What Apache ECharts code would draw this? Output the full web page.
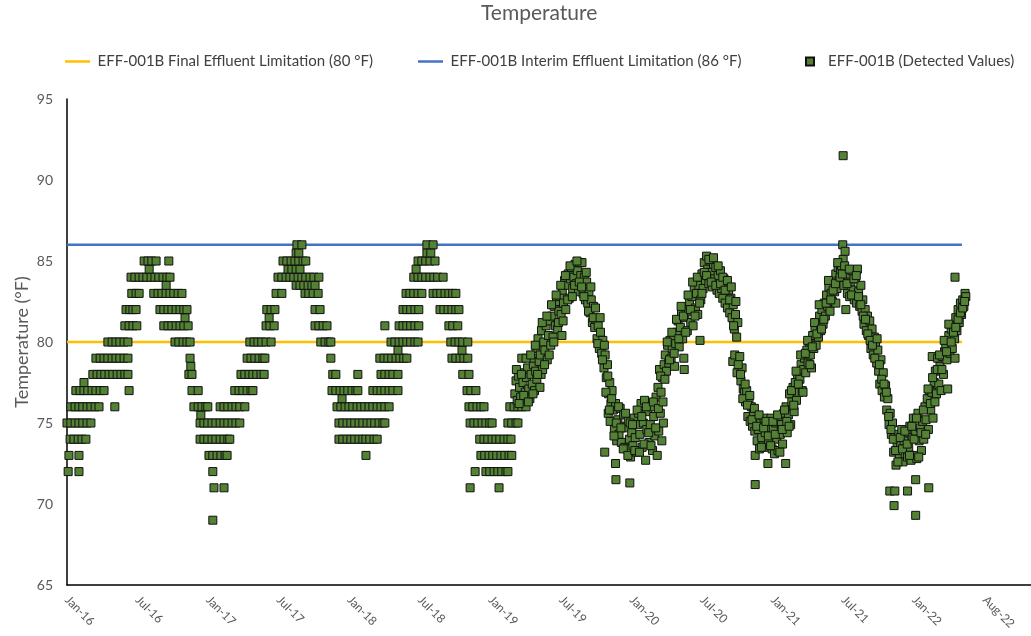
<!DOCTYPE html>
<html>
<head>
<meta charset="utf-8">
<script src="https://cdn.jsdelivr.net/npm/echarts@6/dist/echarts.min.js"></script>
<style>
html,body{margin:0;padding:0;background:#fff;}
#chart{width:1031px;height:636px;}
</style>
</head>
<body>
<div id="chart"></div>
<script>
// x values are days since 2016-01-26 (axis start); ticks every 183 days
const tickDays = 183;
const tickLabels = ['Jan-16','Jul-16','Jan-17','Jul-17','Jan-18','Jul-18','Jan-19','Jul-19','Jan-20','Jul-20','Jan-21','Jul-21','Jan-22','Aug-22'];
const axisEndDay = 2499;

const seriesNames = [
  'EFF-001B Final Effluent Limitation (80 °F)',
  'EFF-001B Interim Effluent Limitation (86 °F)',
  'EFF-001B (Detected Values)'
];
const finalLimit = 80;
const interimLimit = 86;
const limitSpanDays = [0, 2320];

// 2016 - early 2019 readings (whole / half degrees): [temp, [days...]]
const stepReadings = [
  [69, [378]],
  [71, [381, 407, 1045, 1120]],
  [72, [3, 31, 378, 1058, 1086, 1096, 1107, 1117, 1127, 1138, 1143]],
  [73, [5, 31, 368, 378, 389, 399, 410, 415, 775, 1073, 1083, 1094, 1104, 1114, 1125, 1135, 1146, 1153]],
  [74, [8, 18, 29, 39, 49, 345, 355, 365, 376, 386, 397, 407, 417, 422, 705, 715, 726, 736, 746, 757, 767, 775, 785, 796, 804, 1070, 1081, 1091, 1102, 1112, 1122, 1133, 1143, 1151]],
  [75, [0, 10, 21, 31, 41, 52, 62, 345, 355, 365, 376, 386, 397, 407, 417, 428, 438, 448, 705, 715, 726, 736, 746, 757, 767, 778, 788, 798, 809, 819, 824, 1045, 1055, 1065, 1076, 1086, 1096, 1102, 1143, 1153, 1164, 1169]],
  [75.5, [347]],
  [76, [10, 21, 31, 41, 52, 62, 73, 83, 124, 329, 340, 350, 360, 365, 397, 407, 417, 428, 438, 448, 461, 700, 710, 721, 731, 741, 752, 762, 772, 783, 793, 804, 814, 824, 835, 1042, 1052, 1063, 1073, 1081, 1148, 1159, 1169, 1179, 1190]],
  [76.5, [713]],
  [77, [23, 34, 44, 54, 65, 75, 86, 96, 161, 324, 340, 435, 446, 456, 467, 477, 482, 687, 697, 708, 718, 728, 739, 749, 754, 793, 804, 814, 824, 835, 845, 858, 1037, 1047, 1060]],
  [77.5, [44]],
  [78, [67, 78, 88, 98, 109, 119, 130, 140, 150, 158, 316, 324, 451, 461, 472, 482, 492, 503, 511, 689, 697, 754, 814, 824, 835, 845, 858, 1026, 1042]],
  [78.5, [321]],
  [79, [75, 86, 96, 106, 117, 127, 137, 148, 158, 319, 467, 477, 487, 498, 508, 513, 684, 811, 822, 832, 842, 853, 863, 873, 881, 998, 1008, 1019, 1029, 1039]],
  [79.5, [858, 1024]],
  [80, [106, 117, 127, 137, 148, 158, 280, 290, 301, 311, 319, 474, 485, 495, 505, 516, 529, 658, 669, 679, 684, 840, 850, 861, 871, 881, 891, 902, 910, 995, 1006, 1016, 1026, 1039]],
  [81, [150, 161, 171, 181, 251, 262, 272, 283, 293, 303, 314, 516, 526, 537, 643, 653, 664, 674, 824, 861, 871, 881, 891, 902, 912, 990, 1000, 1013]],
  [81.5, [306, 524]],
  [82, [153, 163, 171, 179, 241, 251, 262, 272, 283, 293, 303, 311, 518, 529, 539, 643, 656, 871, 881, 891, 902, 912, 967, 977, 988, 998, 1008, 1016]],
  [83, [168, 179, 187, 225, 236, 246, 257, 267, 277, 288, 298, 542, 557, 617, 627, 638, 651, 879, 889, 899, 910, 920, 949, 959, 969, 980, 990, 1000, 1008]],
  [83.5, [257, 594, 604, 614, 625, 635, 643]],
  [84, [166, 176, 187, 197, 207, 218, 228, 238, 249, 259, 267, 547, 557, 568, 578, 588, 599, 609, 619, 630, 640, 653, 899, 910, 920, 930, 941, 951, 961, 975]],
  [84.5, [213, 573, 583, 594, 604, 905]],
  [85, [200, 210, 220, 231, 264, 560, 570, 581, 591, 601, 612, 619, 910, 920, 930, 941, 954]],
  [85.5, [594, 601, 933, 943]],
  [86, [596, 609, 933, 949]]
];

// mid 2019 - 2022 readings (tenths of a degree): [day, temp]
const dailyReadings = [
[1161,76.8],[1164,77.6],[1167,76.4],[1170,77.9],[1173,77.2],[1176,76.6],[1179,79.0],[1182,77.5],[1185,78.1],[1188,76.9],
[1191,77.8],[1194,78.4],[1197,77.1],[1200,76.5],[1203,78.0],[1206,77.4],[1209,78.6],[1210,79.0],[1212,77.0],[1215,78.2],[1216,79.6],[1218,77.7],[1221,80.2],[1224,78.8],
[1226,77.2],[1227,79.2],[1229,78.0],[1230,80.7],[1233,78.3],[1236,80.0],[1239,79.5],[1242,81.0],[1245,78.9],[1248,80.4],[1251,81.3],[1254,79.8],
[1257,81.6],[1260,80.3],[1263,82.2],[1266,81.0],[1269,82.5],[1272,80.8],[1275,81.9],[1278,82.8],
[1281,81.7],[1283,80.4],[1284,83.2],[1287,82.4],[1290,83.8],[1293,82.0],[1296,83.5],[1299,84.2],[1302,82.7],[1305,83.9],
[1308,84.6],[1311,83.3],[1314,84.0],[1317,84.8],[1320,83.6],[1323,84.4],[1326,83.1],[1329,84.9],[1332,84.1],[1335,84.9],
[1338,83.0],[1341,84.0],[1344,82.6],[1347,83.7],[1350,82.4],
[1353,83.1],[1356,81.8],[1359,82.6],[1362,81.2],[1365,82.2],[1368,80.9],
[1371,81.4],[1374,80.2],[1377,81.0],[1380,79.6],[1383,80.6],[1386,79.3],[1389,80.1],
[1392,78.4],[1394,73.2],[1395,79.2],[1398,77.8],
[1401,78.6],[1403,75.6],[1404,76.8],[1407,77.5],[1408,75.1],[1410,76.2],[1413,77.0],
[1416,75.8],[1419,74.6],[1422,76.2],[1422,72.5],[1423,71.5],[1425,73.9],[1428,75.2],[1431,74.3],[1434,75.9],[1437,73.8],[1440,74.8],[1443,75.5],[1446,73.5],
[1449,74.7],[1452,73.4],[1455,75.1],[1458,74.0],[1459,71.3],[1461,72.9],[1464,74.4],[1467,73.6],[1470,75.3],[1473,74.1],[1476,73.2],[1479,74.9],[1482,75.6],
[1485,74.3],[1488,76.2],[1491,73.5],[1494,75.0],[1497,76.4],[1500,72.7],[1503,74.6],[1506,75.7],[1509,73.8],[1512,74.9],[1515,76.0],[1518,73.3],[1521,75.4],[1524,74.2],
[1527,76.6],[1530,73.0],[1532,77.2],[1534,74.5],[1536,78.3],[1538,75.6],[1540,76.9],[1542,73.9],[1544,77.8],[1546,75.0],[1548,78.6],
[1551,79.2],[1554,78.2],[1557,79.8],[1560,78.7],[1563,80.1],[1566,79.0],[1569,79.6],[1572,80.3],[1575,78.5],[1578,79.9],
[1581,80.6],[1584,81.3],[1587,79.7],[1590,80.9],[1593,81.8],[1596,80.2],[1599,79.0],[1600,78.3],[1602,81.5],[1605,82.0],[1608,80.7],[1611,81.9],[1614,82.5],
[1617,81.2],[1620,82.8],[1623,81.0],[1626,83.3],[1629,82.1],[1632,83.0],[1635,81.7],[1638,83.5],[1641,80.1],
[1643,82.6],[1646,84.2],[1649,83.3],[1652,84.9],[1655,83.8],[1658,85.3],[1661,84.5],[1664,83.6],[1667,85.0],
[1670,84.3],[1673,83.4],[1676,84.8],[1679,83.9],[1682,84.6],[1685,83.2],[1688,84.1],[1691,83.0],
[1694,84.4],[1697,83.3],[1700,82.7],[1703,83.9],[1706,82.4],[1709,83.5],[1712,82.1],[1715,83.2],[1718,81.8],[1721,82.7],[1724,81.5],
[1726,78.8],[1727,82.3],[1730,80.8],[1731,79.2],[1733,81.7],[1736,80.3],[1737,78.1],[1739,81.2],
[1744,79.1],[1747,77.6],[1750,78.4],[1753,77.1],[1756,76.9],
[1759,76.3],[1762,77.0],[1765,75.4],[1768,76.5],[1771,75.1],[1774,76.0],[1777,74.8],[1780,75.6],[1783,74.5],
[1784,73.0],[1784,71.2],[1786,75.2],[1789,73.9],[1792,74.6],[1795,73.4],[1798,75.0],[1801,74.1],[1804,73.6],[1807,75.3],[1810,74.4],[1813,73.5],[1816,74.9],[1817,72.5],[1819,73.8],[1822,74.7],
[1825,75.3],[1828,73.4],[1831,74.6],[1834,73.1],[1837,75.0],[1840,74.0],[1843,73.3],[1846,75.4],[1849,74.3],[1852,74.9],[1855,73.7],[1858,75.6],[1861,74.6],[1863,72.5],
[1864,76.0],[1867,74.4],[1870,75.5],[1873,76.8],[1876,74.9],[1879,76.3],[1882,77.2],[1885,75.7],
[1888,77.5],[1891,76.4],[1894,78.0],[1897,76.9],[1900,77.7],[1903,78.6],[1906,77.0],[1909,78.3],[1912,79.0],
[1915,78.1],[1918,79.5],[1921,78.7],[1924,80.0],[1927,79.2],[1930,78.4],[1933,80.4],[1936,79.6],[1939,80.9],
[1942,79.8],[1945,81.2],[1948,80.3],[1951,81.6],[1954,80.7],[1957,82.0],[1960,81.1],[1963,82.4],
[1966,81.6],[1969,82.9],[1972,82.2],[1975,83.4],[1978,81.9],[1981,83.0],[1984,82.5],[1987,83.8],[1990,83.1],[1993,82.4],
[1993,84.2],[1996,83.3],[1999,84.6],[2002,83.8],[2005,84.4],[2008,84.7],[2011,86.0],[2012,85.1],[2012,91.5],[2014,83.5],[2017,85.6],[2019,82.0],
[2020,84.3],[2023,83.0],[2026,84.0],[2029,82.8],[2032,83.7],[2035,84.4],[2038,83.2],[2041,82.6],
[2044,83.9],[2047,82.4],[2049,84.5],[2052,83.1],[2055,82.2],[2058,83.5],[2061,81.9],
[2063,82.6],[2066,81.1],[2069,82.0],[2072,80.7],[2075,81.6],[2078,80.4],[2081,81.3],
[2084,79.6],[2087,80.8],[2090,79.2],[2093,80.3],[2096,79.9],[2099,78.7],[2102,79.5],
[2104,78.2],[2107,77.4],[2110,78.9],[2113,77.0],[2116,78.1],[2119,76.6],
[2122,77.3],[2125,75.8],[2128,76.5],[2131,74.9],[2133,70.8],[2134,75.6],[2137,74.3],
[2140,75.0],[2143,73.2],[2144,69.9],[2146,74.1],[2146,70.8],[2149,72.4],[2152,73.6],
[2155,74.3],[2158,72.8],[2161,73.7],[2164,74.6],[2167,72.6],[2170,73.9],[2173,73.1],[2176,74.4],[2179,72.9],[2179,70.8],[2182,73.5],[2185,74.8],[2188,72.7],
[2191,74.1],[2194,75.3],[2197,73.0],[2200,74.5],[2200,71.5],[2200,69.3],[2203,72.8],[2206,75.6],[2209,73.9],[2212,74.7],[2215,73.3],[2218,75.1],[2221,74.0],[2224,76.0],
[2227,75.2],[2230,76.5],[2233,74.6],[2234,71.0],[2236,77.0],[2239,75.8],[2242,76.9],[2243,79.1],[2245,75.3],[2248,77.5],
[2251,78.2],[2254,76.8],[2257,79.0],[2260,77.4],[2263,78.5],[2266,77.0],[2269,79.1],[2272,78.0],[2275,79.4],
[2278,79.8],[2281,78.9],[2283,77.1],[2286,80.4],[2289,79.3],[2292,80.8],[2295,79.6],[2298,81.0],[2301,80.2],[2302,79.0],[2302,84.0],
[2304,81.5],[2307,80.7],[2310,82.0],[2313,81.2],[2316,82.4],[2319,81.7],
[2322,82.6],[2325,82.2],[2328,83.0],[2330,82.8],
// additional same-period readings
[1165,78.3],[1172,76.2],[1178,78.0],[1184,76.7],[1190,79.0],[1196,76.3],[1202,79.2],[1208,76.8],[1214,79.8],[1220,78.0],
[1232,81.2],[1238,78.6],[1244,81.6],[1250,79.2],[1256,82.3],[1262,80.0],[1268,82.9],[1274,81.2],[1280,83.5],[1286,81.3],
[1292,84.1],[1298,82.6],[1304,84.7],[1310,82.8],[1316,83.5],[1322,85.0],[1328,83.7],[1334,83.4],[1340,82.8],[1346,84.3],
[1352,81.9],[1358,83.4],[1364,81.5],[1370,82.1],[1376,79.9],[1382,81.5],[1388,78.9],[1393,79.8],[1397,76.9],[1402,77.9],
[1406,75.8],[1412,76.5],[1418,74.2],[1424,75.0],[1430,76.0],[1436,74.7],[1442,73.4],[1448,75.6],[1454,73.0],[1460,75.0],
[1466,74.9],[1472,73.3],[1478,75.8],[1484,73.2],[1490,75.4],[1496,73.7],[1502,76.0],[1508,74.4],[1514,73.6],[1520,76.3],
[1526,74.7],[1533,75.9],[1539,77.9],[1545,76.3],[1550,77.7],[1556,80.0],[1562,78.9],[1568,80.6],[1574,79.3],[1580,81.4],
[1586,80.2],[1592,82.2],[1598,81.6],[1604,80.6],[1610,82.9],[1616,82.0],[1622,83.7],[1628,81.6],[1634,84.0],[1640,82.4],
[1646,83.0],[1652,84.3],[1658,84.1],[1664,85.1],[1670,83.7],[1676,85.2],[1682,83.5],[1688,84.7],[1694,83.6],[1700,84.0],
[1706,83.2],[1712,83.8],[1718,82.6],[1722,83.4],[1728,81.0],[1734,82.5],[1740,78.6],[1746,78.0],[1752,76.5],[1758,77.4],
[1764,76.1],[1770,76.7],[1776,75.2],[1782,75.9],[1788,74.8],[1794,75.5],[1800,73.5],[1806,74.7],[1812,75.1],[1818,74.2],
[1824,73.6],[1830,75.1],[1836,74.3],[1842,75.5],[1848,73.2],[1854,74.6],[1860,75.8],[1866,75.1],[1872,74.8],[1878,77.0],
[1884,76.1],[1890,78.2],[1896,77.4],[1902,79.2],[1908,76.9],[1914,79.3],[1920,80.1],[1926,78.6],[1932,79.7],[1938,81.2],
[1944,80.5],[1950,82.3],[1956,80.8],[1962,81.4],[1968,82.4],[1974,83.8],[1980,82.6],[1986,83.2],[1992,83.6],[1998,84.9],
[2004,84.0],[2010,84.2],[2016,84.7],[2022,83.6],[2028,84.5],[2034,82.9],[2040,83.9],[2046,84.1],[2052,82.8],[2058,82.3],
[2064,81.6],[2070,81.4],[2076,80.5],[2082,80.1],[2088,79.8],[2094,79.0],[2100,80.2],[2106,78.6],[2112,77.7],[2118,77.4],
[2124,76.9],[2130,75.4],[2136,74.6],[2142,74.0],[2148,73.3],[2154,72.6],[2160,74.1],[2166,73.4],[2172,74.5],[2178,73.7],
[2184,73.0],[2190,74.8],[2196,74.0],[2202,75.3],[2208,72.9],[2214,74.4],[2220,75.8],[2226,74.3],[2232,77.1],[2238,76.2],
[2244,77.8],[2250,76.3],[2256,78.3],[2262,79.2],[2268,78.3],[2274,80.1],[2280,79.4],[2286,81.1],[2292,80.0],[2298,80.6],
[2304,80.9],[2310,81.4],[2316,81.8],[2322,82.1],[2327,82.5]
];

const yTicks = {min: 65, max: 95, interval: 5};

// build scatter data
const detected = [];
stepReadings.forEach(function (row) {
  row[1].forEach(function (d) { detected.push([d, row[0]]); });
});
dailyReadings.forEach(function (p) { detected.push([p[0], p[1]]); });

const FONT = 'Lato, "Open Sans", sans-serif';
const GREY = '#595959';
const LEG_TEXT = {fontFamily: FONT, fontSize: 15, color: '#404040'};

const chart = echarts.init(document.getElementById('chart'), null, {renderer: 'canvas'});
chart.setOption({
  animation: false,
  backgroundColor: '#ffffff',
  title: {
    text: 'Temperature',
    left: 481, top: 3, padding: 0,
    textStyle: {fontFamily: FONT, fontSize: 21, fontWeight: 'normal', color: GREY}
  },
  legend: [
    {left: 65, top: 54, padding: 0, itemWidth: 30, itemHeight: 2.5,
     data: [{name: seriesNames[0], icon: 'path://M0,0H30V3H0Z'}], textStyle: LEG_TEXT},
    {left: 418, top: 54, padding: 0, itemWidth: 30, itemHeight: 2.5,
     data: [{name: seriesNames[1], icon: 'path://M0,0H30V3H0Z'}], textStyle: LEG_TEXT},
    {left: 805, top: 54, padding: 0, itemWidth: 8, itemHeight: 8, icon: 'rect',
     data: [seriesNames[2]], textStyle: Object.assign({}, LEG_TEXT, {padding: [0, 0, 0, 9]})}
  ],
  grid: {left: 67, right: 0, top: 99, bottom: 51, containLabel: false},
  xAxis: {
    type: 'value',
    min: 0, max: axisEndDay, interval: tickDays,
    axisLine: {show: true, lineStyle: {color: '#000', width: 1.5}},
    axisTick: {show: false},
    splitLine: {show: false},
    axisLabel: {
      rotate: -45, margin: 13, fontFamily: FONT, fontSize: 12, color: GREY,
      showMaxLabel: false,
      formatter: function (v) {
        const i = Math.round(v / tickDays);
        if (Math.abs(v - i * tickDays) > 0.5) return '';
        return tickLabels[i] || '';
      }
    }
  },
  yAxis: {
    type: 'value',
    min: yTicks.min, max: yTicks.max, interval: yTicks.interval,
    name: 'Temperature (°F)',
    nameLocation: 'middle', nameGap: 36, nameRotate: 90, nameMoveOverlap: false,
    nameTextStyle: {fontFamily: FONT, fontSize: 18, color: GREY},
    axisLine: {show: true, lineStyle: {color: '#000', width: 1.5}},
    axisTick: {show: false},
    splitLine: {show: false},
    axisLabel: {fontFamily: FONT, fontSize: 14, color: GREY, margin: 14}
  },
  series: [
    {
      name: seriesNames[0], type: 'line', symbol: 'none', z: 2,
      lineStyle: {color: '#FFC000', width: 2.5},
      itemStyle: {color: '#FFC000'},
      data: [[limitSpanDays[0], finalLimit], [limitSpanDays[1], finalLimit]]
    },
    {
      name: seriesNames[1], type: 'line', symbol: 'none', z: 2,
      lineStyle: {color: '#4472C4', width: 2.5},
      itemStyle: {color: '#4472C4'},
      data: [[limitSpanDays[0], interimLimit], [limitSpanDays[1], interimLimit]]
    },
    {
      name: seriesNames[2], type: 'scatter', symbol: 'rect', symbolSize: 8, z: 5,
      progressive: 0, large: false,
      itemStyle: {color: '#548235', borderColor: '#111', borderWidth: 1, opacity: 1},
      data: detected
    }
  ]
});
</script>
</body>
</html>
